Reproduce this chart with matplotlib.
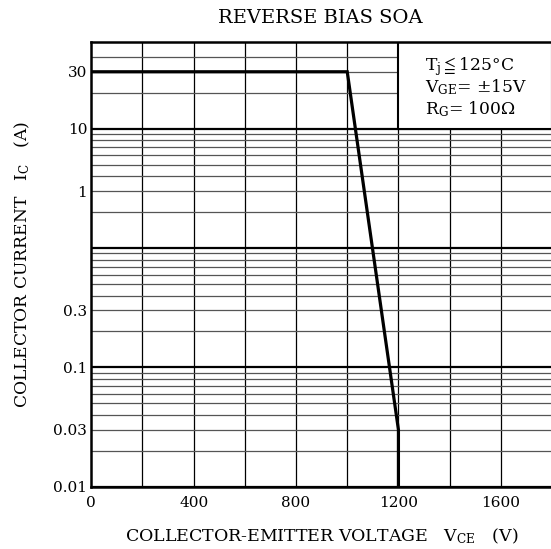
import numpy as np
import matplotlib
matplotlib.use("Agg")
import matplotlib.pyplot as plt
from matplotlib.ticker import FixedLocator, NullLocator
from matplotlib.patches import Rectangle

plt.rcParams['font.family'] = ['DejaVu Serif', 'DejaVu Sans']
plt.rcParams['mathtext.fontset'] = 'dejavuserif'

# SOA boundary
vce = [0, 1000, 1200, 1200]
ic = [30, 30, 0.03, 0.01]

xticks = [0, 400, 800, 1200, 1600]
yticks = [0.01, 0.03, 0.1, 0.3, 3, 10, 30]
ytick_labels = ['0.01', '0.03', '0.1', '0.3', '1', '10', '30']
conditions = [r'T$_\mathrm{j}$$\leqq$125°C', r'V$_\mathrm{GE}$= ±15V', r'R$_\mathrm{G}$= 100Ω']

fig = plt.figure(figsize=(5.51, 5.49), dpi=100)
ax = fig.add_axes([0.1657, 0.1135, 0.8361, 0.8095])
ax.set_yscale('log')
ax.set_xlim(0, 1800)
ax.set_ylim(0.01, 53)

# grid
for xv in range(200, 1800, 200):
    ax.axvline(xv, color='black', lw=0.9, zorder=0.5)
for dec in [0.01, 0.1, 1, 10]:
    for k in range(2, 10):
        v = dec * k
        if v < 50:
            ax.axhline(v, color='#555555', lw=0.9, zorder=0.5)
    ax.axhline(dec, color='black', lw=1.6, zorder=0.6)

# condition box
ax.add_patch(Rectangle((1200, 10), 600, 43, facecolor='white', edgecolor='black',
                       lw=1.5, zorder=1))
for i, s in enumerate(conditions):
    ax.text(0.724, 0.936 - i * 0.0485, s, transform=ax.transAxes, fontsize=12.3,
            va='baseline', ha='left', zorder=2)

ax.plot(vce, ic, color='black', lw=2.3, zorder=3, solid_joinstyle='miter')

ax.xaxis.set_major_locator(FixedLocator(xticks))
ax.set_xticklabels([str(x) for x in xticks])
ax.yaxis.set_major_locator(FixedLocator(yticks))
ax.yaxis.set_minor_locator(NullLocator())
ax.set_yticklabels(ytick_labels)
ax.tick_params(axis='both', length=0, labelsize=11)
ax.tick_params(axis='x', pad=7)
ax.tick_params(axis='y', pad=3)

for side in ['left', 'bottom', 'top']:
    ax.spines[side].set_linewidth(1.8)
ax.spines['right'].set_visible(False)

ax.set_xlabel(r'COLLECTOR-EMITTER VOLTAGE   V$_\mathrm{CE}$   (V)', fontsize=12.5, labelpad=12)
ax.set_ylabel(r'COLLECTOR CURRENT   I$_\mathrm{C}$   (A)', fontsize=12.3, labelpad=15)
fig.text(320 / 551, 1 - 18 / 549, 'REVERSE BIAS SOA', ha='center', va='center', fontsize=14)

fig.savefig('out.png', dpi=100)
